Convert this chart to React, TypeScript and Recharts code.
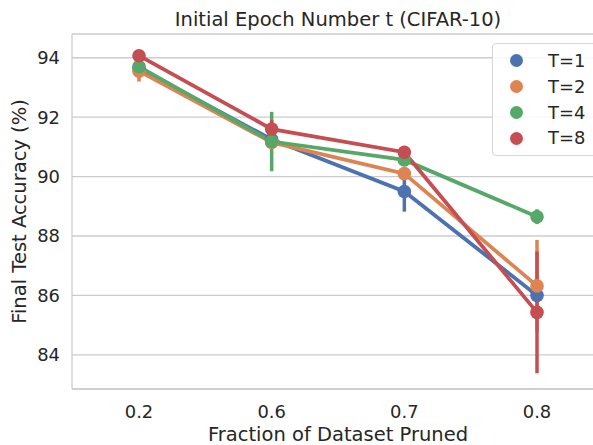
import {
  ErrorBar,
  Line,
  LineChart,
  CartesianGrid,
  XAxis,
  YAxis,
} from "recharts";

// fraction of dataset pruned
const categories = ["0.2", "0.6", "0.7", "0.8"];

// final test accuracy (%) per T
const t1 = [93.65, 91.25, 89.5, 86.0];
const t2 = [93.55, 91.15, 90.1, 86.32];
const t4 = [93.7, 91.18, 90.56, 88.65];
const t8 = [94.07, 91.6, 90.82, 85.43];

// error bars as [down, up] offsets
const t1Err = [[0.1, 0.1], [0.12, 0.12], [0.68, 0.68], [0.15, 0.15]];
const t2Err = [[0.35, 0.35], [0.1, 0.1], [0.12, 0.12], [1.55, 1.55]];
const t4Err = [[0.1, 0.1], [1.0, 1.0], [0.1, 0.1], [0.25, 0.25]];
const t8Err = [[0.08, 0.08], [0.3, 0.3], [0.1, 0.1], [2.05, 2.05]];

const yTicks = [84, 86, 88, 90, 92, 94];

const series = [
  { key: "t1", name: "T=1", color: "#4C72B0" },
  { key: "t2", name: "T=2", color: "#DD8452" },
  { key: "t4", name: "T=4", color: "#55A868" },
  { key: "t8", name: "T=8", color: "#C44E52" },
];

const data = categories.map((c, i) => ({
  frac: c,
  t1: t1[i],
  t2: t2[i],
  t4: t4[i],
  t8: t8[i],
  t1Err: t1Err[i],
  t2Err: t2Err[i],
  t4Err: t4Err[i],
  t8Err: t8Err[i],
}));

const FONT = "'DejaVu Sans', sans-serif";
const TEXT = "#262626";
const GRID = "#cccccc";

function LegendBox() {
  return (
    <div
      style={{
        position: "absolute",
        left: 492,
        top: 43,
        width: 110,
        height: 113,
        border: "1px solid #d6d6d6",
        borderRadius: 4,
        background: "rgba(255,255,255,0.85)",
        padding: "4px 0 0 16.5px",
        fontFamily: FONT,
        fontSize: 17.9,
        color: TEXT,
        boxSizing: "border-box",
      }}
    >
      {series.map((s) => (
        <div
          key={s.key}
          style={{ display: "flex", alignItems: "center", height: 25.8 }}
        >
          <span
            style={{
              width: 13,
              height: 13,
              borderRadius: "50%",
              background: s.color,
              display: "inline-block",
              marginRight: 25.5,
              flexShrink: 0,
            }}
          />
          <span style={{ lineHeight: 1 }}>{s.name}</span>
        </div>
      ))}
    </div>
  );
}

export default function App() {
  return (
    <div
      style={{
        position: "absolute",
        left: 0,
        top: 0,
        width: 593,
        height: 445,
        overflow: "hidden",
        background: "#fff",
      }}
    >
      <div
        style={{
          position: "absolute",
          left: 72,
          width: 532,
          top: 8,
          textAlign: "center",
          fontFamily: FONT,
          fontSize: 19.5,
          lineHeight: "normal",
          color: TEXT,
          whiteSpace: "nowrap",
        }}
      >
        Initial Epoch Number t (CIFAR-10)
      </div>
      <div style={{ position: "absolute", left: 0, top: 0 }}>
        <LineChart
          width={605}
          height={445}
          data={data}
          margin={{ top: 34, right: 1, bottom: 0, left: 0 }}
        >
          <CartesianGrid stroke={GRID} strokeWidth={1.3} vertical={false} />
          <XAxis
            dataKey="frac"
            padding={{ left: 67, right: 67 }}
            height={56}
            stroke={GRID}
            strokeWidth={1.3}
            tickLine={false}
            tickSize={0}
            tickMargin={16}
            tick={{ fill: TEXT, fontSize: 17.9, fontFamily: FONT }}
            label={{
              value: "Fraction of Dataset Pruned",
              position: "insideBottom",
              offset: 4,
              fill: TEXT,
              fontSize: 19.5,
              fontFamily: FONT,
            }}
          />
          <XAxis
            xAxisId="top"
            dataKey="frac"
            orientation="top"
            height={0}
            tick={false}
            tickLine={false}
            stroke={GRID}
            strokeWidth={1.3}
          />
          <YAxis
            domain={[82.85, 94.8]}
            ticks={yTicks}
            allowDataOverflow
            width={72}
            stroke={GRID}
            strokeWidth={1.3}
            tickLine={false}
            tickSize={0}
            tickMargin={12}
            tick={{ fill: TEXT, fontSize: 17.9, fontFamily: FONT }}
            label={{
              value: "Final Test Accuracy (%)",
              angle: -90,
              position: "insideLeft",
              offset: 19,
              style: { textAnchor: "middle" },
              fill: TEXT,
              fontSize: 19.5,
              fontFamily: FONT,
            }}
          />
          {series.map((s) => (
            <Line
              key={s.key}
              dataKey={s.key}
              name={s.name}
              stroke={s.color}
              strokeWidth={3.8}
              dot={{ r: 6.8, fill: s.color, stroke: s.color, strokeWidth: 0 }}
              activeDot={false}
              isAnimationActive={false}
            >
              <ErrorBar
                dataKey={`${s.key}Err`}
                direction="y"
                width={0}
                stroke={s.color}
                strokeWidth={3.5}
                isAnimationActive={false}
              />
            </Line>
          ))}
        </LineChart>
      </div>
      <LegendBox />
    </div>
  );
}
